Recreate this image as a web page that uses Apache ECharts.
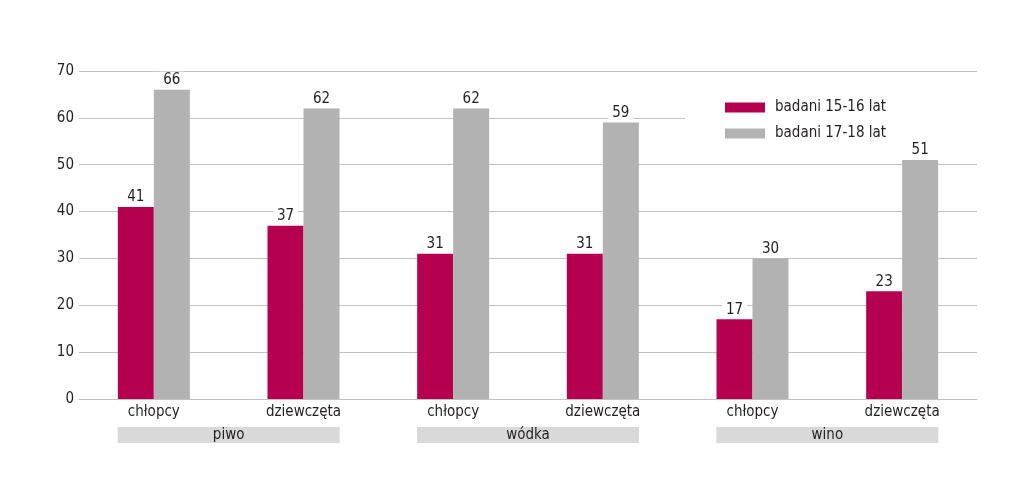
<!DOCTYPE html>
<html>
<head>
<meta charset="utf-8">
<script src="https://cdn.jsdelivr.net/npm/echarts@6/dist/echarts.min.js"></script>
<style>
  html, body { margin: 0; padding: 0; background: #fff; }
  #chart { width: 1024px; height: 484px; }
</style>
</head>
<body>
<div id="chart"></div>
<script>
var categories = ['chłopcy', 'dziewczęta', 'chłopcy', 'dziewczęta', 'chłopcy', 'dziewczęta'];
var groups = ['piwo', 'wódka', 'wino'];
var seriesNames = ['badani 15-16 lat', 'badani 17-18 lat'];
var young = [41, 37, 31, 31, 17, 23];
var older = [66, 62, 62, 59, 30, 51];

var font = '"Liberation Sans Narrow", "DejaVu Sans Condensed", sans-serif';
var textColor = '#231f20';

var myChart = echarts.init(document.getElementById('chart'));

var valueLabel = {
    show: true,
    position: 'top',
    distance: 2,
    color: textColor,
    fontFamily: font,
    fontSize: 15,
    backgroundColor: '#fff',
    padding: [1, 4, 0, 4]
};

var option = {
    backgroundColor: '#fff',
    animation: false,
    textStyle: { fontFamily: font, color: textColor },
    grid: { left: 79, right: 47, top: 71, bottom: 85 },
    legend: {
        orient: 'vertical',
        left: 685,
        top: 88,
        z: 1,
        padding: [12, 111, 8, 40],
        backgroundColor: '#fff',
        itemWidth: 40,
        itemHeight: 10,
        itemGap: 11,
        icon: 'rect',
        textStyle: { fontFamily: font, fontSize: 15, color: textColor, padding: [0, 0, 0, 5] },
        data: seriesNames
    },
    xAxis: [
        {
            type: 'category',
            data: categories,
            axisLine: { lineStyle: { color: '#c2c2c2', width: 1 } },
            axisTick: { show: false },
            axisLabel: { fontFamily: font, fontSize: 15, color: textColor, margin: 6 }
        },
        {
            type: 'category',
            data: groups,
            position: 'bottom',
            offset: 28,
            axisLine: { show: false },
            axisTick: { show: false },
            axisLabel: {
                fontFamily: font,
                fontSize: 15,
                color: textColor,
                backgroundColor: '#d9d9d9',
                width: 222,
                height: 16,
                lineHeight: 16,
                align: 'center',
                margin: 0
            }
        }
    ],
    yAxis: {
        type: 'value',
        min: 0,
        max: 70,
        interval: 10,
        axisLine: { show: false },
        axisTick: { show: false },
        splitLine: { lineStyle: { color: '#c2c2c2', width: 1 } },
        axisLabel: { fontFamily: font, fontSize: 15, color: textColor, margin: 5 }
    },
    series: [
        {
            name: seriesNames[0],
            type: 'bar',
            xAxisIndex: 0,
            data: young,
            barWidth: 36,
            barGap: '0%',
            itemStyle: { color: '#b5004f' },
            label: valueLabel
        },
        {
            name: seriesNames[1],
            type: 'bar',
            xAxisIndex: 0,
            data: older,
            barWidth: 36,
            barGap: '0%',
            itemStyle: { color: '#b2b2b2' },
            label: valueLabel
        }
    ]
};

myChart.setOption(option);
</script>
</body>
</html>
